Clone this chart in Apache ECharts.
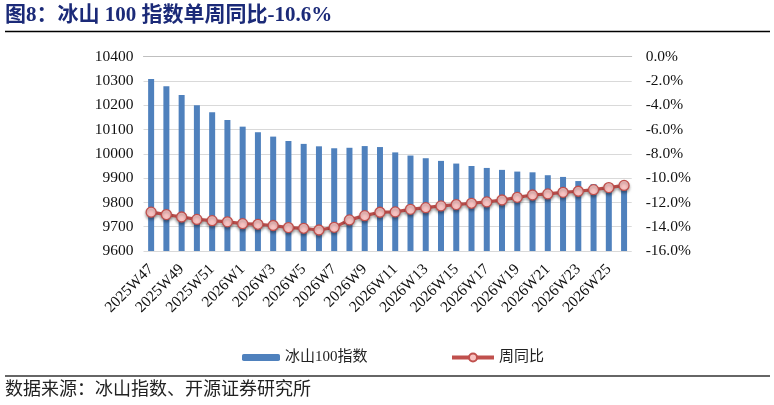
<!DOCTYPE html>
<html>
<head>
<meta charset="utf-8">
<script src="https://cdn.jsdelivr.net/npm/echarts@6/dist/echarts.min.js"></script>
<style>
  html, body { margin: 0; padding: 0; background: #fff; }
  #chart { width: 774px; height: 405px; }
</style>
</head>
<body>
<div id="chart"></div>
<script>
'use strict';

const weeks = [
  '2025W47', '2025W48', '2025W49', '2025W50', '2025W51', '2025W52',
  '2026W1', '2026W2', '2026W3', '2026W4', '2026W5', '2026W6', '2026W7', '2026W8',
  '2026W9', '2026W10', '2026W11', '2026W12', '2026W13', '2026W14', '2026W15', '2026W16',
  '2026W17', '2026W18', '2026W19', '2026W20', '2026W21', '2026W22', '2026W23', '2026W24',
  '2026W25', '2026W26'
];
const indexValues = [
  10308, 10278, 10242, 10200, 10171, 10139, 10112, 10089, 10071, 10053, 10041, 10031,
  10023, 10025, 10032, 10028, 10006, 9993, 9982, 9971, 9960, 9950, 9942, 9934,
  9927, 9924, 9912, 9905, 9888, 9875, 9865, 9858
];
const yoyValues = [
  -12.8, -13.0, -13.2, -13.4, -13.5, -13.6, -13.75, -13.8, -13.9, -14.07, -14.13, -14.27,
  -14.05, -13.44, -13.09, -12.81, -12.78, -12.57, -12.43, -12.29, -12.18, -12.07, -11.96, -11.8,
  -11.58, -11.39, -11.3, -11.17, -11.08, -10.95, -10.78, -10.6
];
const leftTicks = { min: 9600, max: 10400, step: 100 };
const rightTicks = { min: -16, max: 0, step: 2 };

const serif = '"Liberation Serif", "Noto Sans CJK SC", serif';
const chart = echarts.init(document.getElementById('chart'));

chart.setOption({
  animation: false,
  textStyle: { fontFamily: serif },
  grid: { left: 143.5, right: 142.3, top: 56.7, bottom: 154 },
  graphic: [
    {
      type: 'text', left: 5, top: 5,
      style: { text: '图8：冰山 100 指数单周同比-10.6%', font: 'bold 21px ' + serif, fill: '#1B2A78' }
    },
    { type: 'line', shape: { x1: 5, y1: 31.5, x2: 770, y2: 31.5 }, style: { stroke: '#000', lineWidth: 1.3 } },
    { type: 'line', shape: { x1: 5, y1: 376, x2: 770, y2: 376 }, style: { stroke: '#333', lineWidth: 1.6 } },
    {
      type: 'text', left: 5, top: 381,
      style: { text: '数据来源：冰山指数、开源证券研究所', font: '18px ' + serif, fill: '#222' }
    }
  ],
  legend: [
    {
      data: ['冰山100指数'], left: 237, top: 345,
      itemWidth: 38, itemHeight: 7,
      textStyle: { fontSize: 15, color: '#222', fontFamily: serif }
    },
    {
      data: ['周同比'], left: 445, top: 345,
      itemWidth: 42, itemHeight: 10,
      lineStyle: { width: 4 },
      textStyle: { fontSize: 15, color: '#222', fontFamily: serif }
    }
  ],
  xAxis: {
    type: 'category',
    data: weeks,
    axisLine: { lineStyle: { color: '#BFBFBF', width: 1 } },
    axisTick: { alignWithLabel: false, interval: 0, length: 5, lineStyle: { color: '#BFBFBF' } },
    axisLabel: { interval: 1, rotate: 45, fontSize: 15.5, color: '#111', margin: 16, fontFamily: serif }
  },
  yAxis: [
    {
      type: 'value',
      min: leftTicks.min, max: leftTicks.max, interval: leftTicks.step,
      axisLine: { show: false }, axisTick: { show: false },
      axisLabel: { fontSize: 15.5, color: '#111', margin: 10, fontFamily: serif,
        formatter: v => String(v) },
      splitLine: { lineStyle: { color: '#D9D9D9', width: 1.2 } }
    },
    {
      type: 'value',
      min: rightTicks.min, max: rightTicks.max, interval: rightTicks.step,
      axisLine: { show: false }, axisTick: { show: false },
      axisLabel: { fontSize: 15.5, color: '#111', margin: 14, fontFamily: serif,
        formatter: v => v.toFixed(1) + '%' },
      splitLine: { show: false }
    }
  ],
  series: [
    {
      name: '冰山100指数',
      type: 'bar',
      data: indexValues,
      barWidth: 6,
      itemStyle: { color: '#4F81BD' }
    },
    {
      name: '周同比',
      type: 'line',
      yAxisIndex: 1,
      data: yoyValues,
      symbol: 'circle',
      symbolSize: 10,
      lineStyle: { color: '#C0504D', width: 3.2, shadowColor: 'rgba(0,0,0,0.3)', shadowBlur: 3, shadowOffsetY: 2 },
      itemStyle: {
        color: '#F9C3C2', borderColor: '#C0504D', borderWidth: 1.3,
        shadowColor: 'rgba(0,0,0,0.35)', shadowBlur: 3, shadowOffsetY: 2
      }
    }
  ]
});
</script>
</body>
</html>
